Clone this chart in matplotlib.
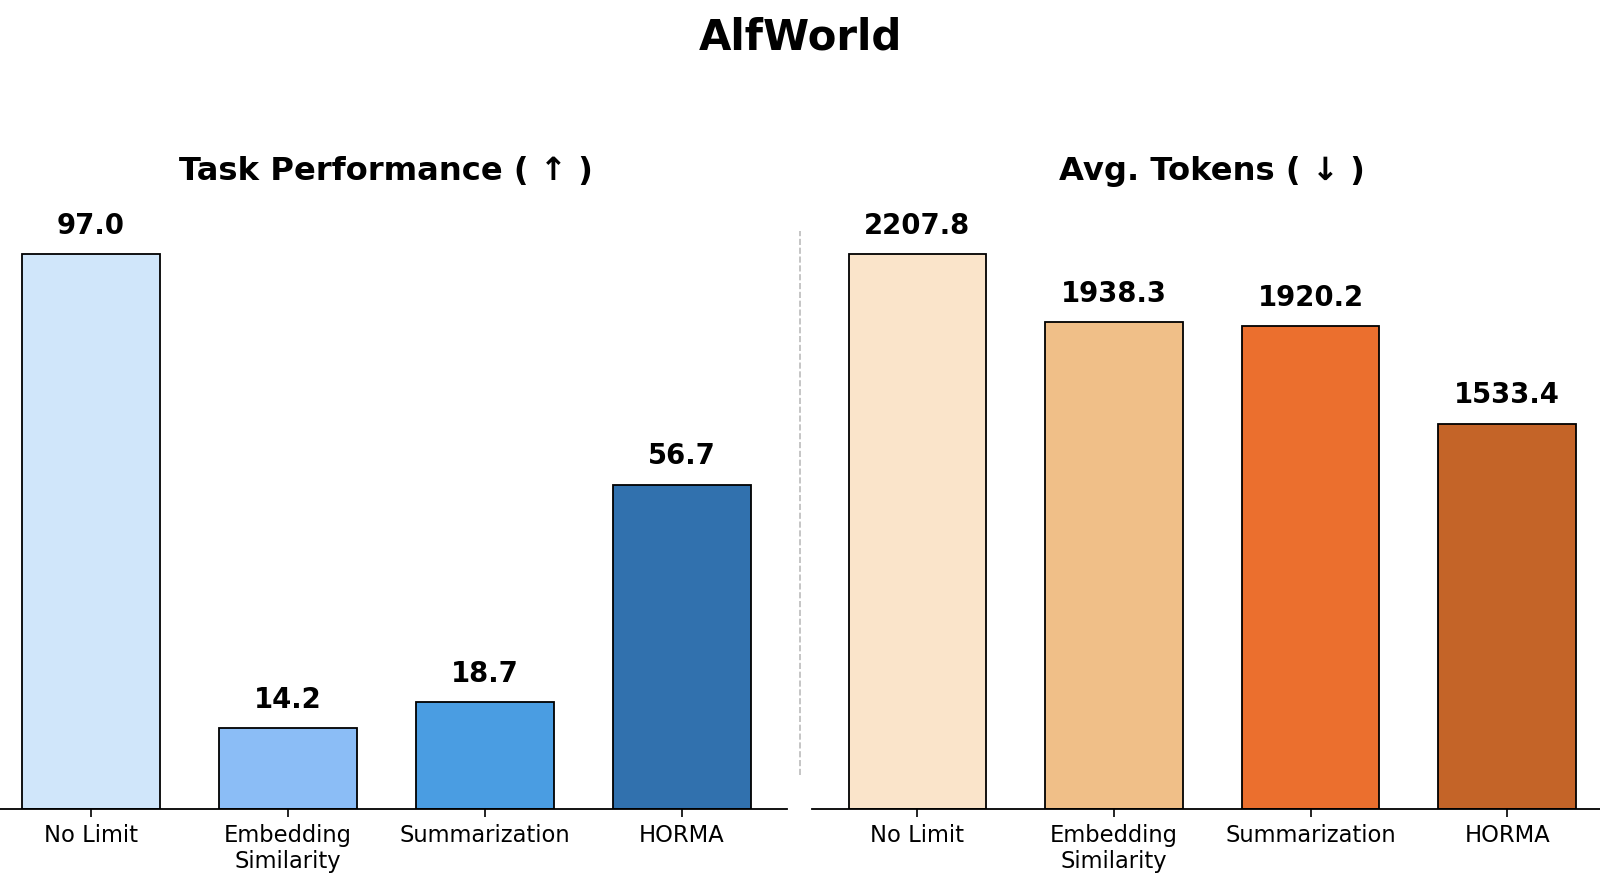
import matplotlib
matplotlib.use("Agg")
import matplotlib.pyplot as plt
from matplotlib.lines import Line2D

methods = ["No Limit", "Embedding\nSimilarity", "Summarization", "HORMA"]
performance = [97.0, 14.2, 18.7, 56.7]
tokens = [2207.8, 1938.3, 1920.2, 1533.4]
blue_colors = ["#D0E6FA", "#8BBDF6", "#4A9DE2", "#3171AE"]
orange_colors = ["#FAE4CA", "#F0BF88", "#EB6F2E", "#C46428"]
panel_titles = ["Task Performance ( ↑ )", "Avg. Tokens ( ↓ )"]
suptitle = "AlfWorld"

fig = plt.figure(figsize=(16, 8.75), dpi=100)
fig.patch.set_facecolor("white")

ax1 = fig.add_axes([-0.0091, 0.0754, 0.5011, 0.6978])
ax2 = fig.add_axes([0.5076, 0.0754, 0.5001, 0.6978])

for ax, vals, cols, title in [(ax1, performance, blue_colors, panel_titles[0]),
                              (ax2, tokens, orange_colors, panel_titles[1])]:
    x = list(range(len(methods)))
    bars = ax.bar(x, vals, width=0.7, color=cols, edgecolor="black", linewidth=1.3)
    ax.set_xlim(-0.535, 3.535)
    ax.set_ylim(0, max(vals) * 1.1)
    ax.set_xticks(x)
    ax.set_xticklabels(methods, fontsize=16.3, linespacing=1.15)
    ax.tick_params(axis="x", length=6, width=1.2, pad=5)
    ax.set_yticks([])
    for s in ["top", "right", "left"]:
        ax.spines[s].set_visible(False)
    ax.spines["bottom"].set_linewidth(1.3)
    ax.set_title(title, fontsize=23.2, fontweight="bold", pad=13)
    fmt = "{:.1f}"
    for b, v in zip(bars, vals):
        ax.annotate(fmt.format(v), (b.get_x() + b.get_width() / 2, b.get_height()),
                    xytext=(0, 14.5), textcoords="offset points", ha="center",
                    va="baseline", fontsize=19.8, fontweight="bold")
    ax.patch.set_alpha(0)

fig.add_artist(Line2D([0.5, 0.5], [0.114, 0.736], transform=fig.transFigure,
                      color="#bbbbbb", linestyle="--", linewidth=1.2))

fig.text(0.5, 0.944, suptitle, ha="center", va="baseline", fontsize=30.2, fontweight="bold")

fig.savefig("out.png", dpi=100)
